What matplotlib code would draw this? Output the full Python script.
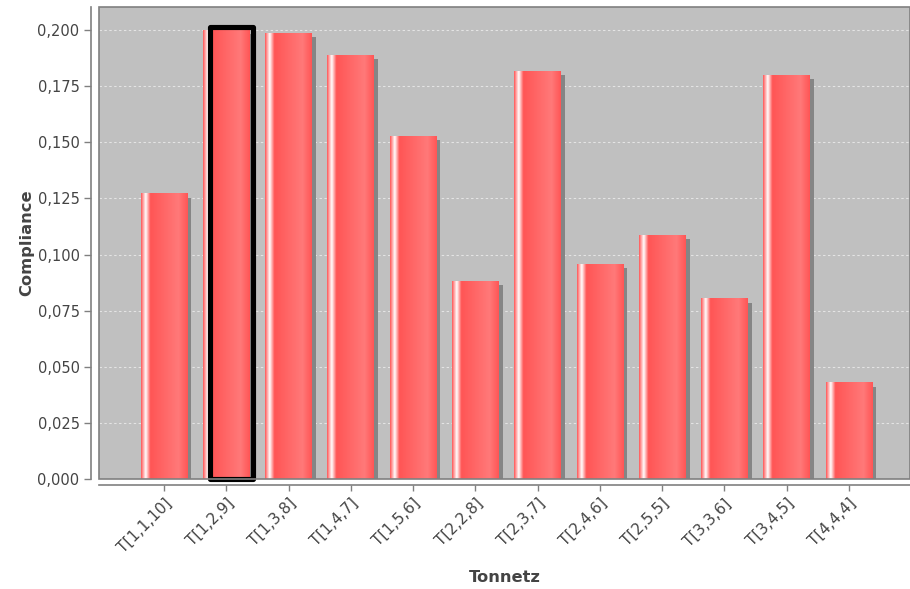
import numpy as np
import matplotlib
matplotlib.use("Agg")
import matplotlib.pyplot as plt
from matplotlib.patches import Rectangle
from matplotlib.ticker import FuncFormatter
from matplotlib.transforms import ScaledTranslation

# Compliance per Tonnetz
categories = ["T[1,1,10]", "T[1,2,9]", "T[1,3,8]", "T[1,4,7]", "T[1,5,6]", "T[2,2,8]",
              "T[2,3,7]", "T[2,4,6]", "T[2,5,5]", "T[3,3,6]", "T[3,4,5]", "T[4,4,4]"]
compliance = [0.1271, 0.2000, 0.1985, 0.1888, 0.1527, 0.0882,
              0.1817, 0.0957, 0.1085, 0.0802, 0.1800, 0.0429]
highlighted = "T[1,2,9]"
y_ticks = [0.000, 0.025, 0.050, 0.075, 0.100, 0.125, 0.150, 0.175, 0.200]

W, H, DPI = 910, 589, 100
fig = plt.figure(figsize=(W / DPI, H / DPI), dpi=DPI)
ax = fig.add_axes([99 / W, 1 - 479 / H, 811 / W, 472 / H])
ax.set_facecolor("#c0c0c0")

# axis lines sit slightly away from the plot area
for side in ("top", "right"):
    ax.spines[side].set_visible(False)
ax.spines["left"].set_position(("outward", 6))
ax.spines["bottom"].set_position(("outward", 4))
for side in ("left", "bottom"):
    ax.spines[side].set_color("#808080")
    ax.spines[side].set_linewidth(1.2)

x = np.arange(len(categories))
bar_w = 0.75

# drop shadows, shifted 4 px right and down
shadows = ax.bar(x, compliance, bar_w, color="#858585", zorder=2, linewidth=0)
shift = ax.transData + ScaledTranslation(4 / DPI, -4 / DPI, fig.dpi_scale_trans)
for p in shadows:
    p.set_transform(shift)

bars = ax.bar(x, compliance, bar_w, color="#ff5555", zorder=3, linewidth=0)

# horizontal gradient in the style of a glossy bar painter
base = np.array([255, 85, 85]) / 255
bright = np.array([255, 121, 121]) / 255
white = np.array([1.0, 1.0, 1.0])
t = np.linspace(0, 1, 240)
grad = np.zeros((1, t.size, 3))
for i, v in enumerate(t):
    if v < 0.10:
        f = v / 0.10
        c = base * (1 - f) + white * f
    elif v < 0.20:
        f = (v - 0.10) / 0.10
        c = white * (1 - f) + base * f
    elif v < 0.80:
        f = (v - 0.20) / 0.60
        c = base * (1 - f) + bright * f
    else:
        f = (v - 0.80) / 0.20
        c = bright * (1 - f) + base * f
    grad[0, i] = c

for p in bars:
    x0, w, h = p.get_x(), p.get_width(), p.get_height()
    ax.imshow(grad, extent=[x0, x0 + w, 0, h], aspect="auto",
              interpolation="bilinear", zorder=3.5)

# outline around the selected Tonnetz
hb = bars[categories.index(highlighted)]
px_x = 1 / 62.3
px_y = 1 / 2240
hx0 = hb.get_x() + 7 * px_x
hx1 = hb.get_x() + hb.get_width() + 3.5 * px_x
htop = hb.get_height() + 3 * px_y
ax.add_patch(Rectangle((hx0, 0), hx1 - hx0, htop, fill=False, edgecolor="black",
                       linewidth=3.7, joinstyle="round", zorder=6, clip_on=False))

ax.set_xlim(-1.044, 11.98)
ax.set_ylim(0, 0.2103)

ax.set_yticks(y_ticks)
ax.yaxis.set_major_formatter(FuncFormatter(lambda v, _: f"{v:.3f}".replace(".", ",")))
ax.yaxis.grid(True, color="#e4e4e4", linestyle=(0, (2.2, 2.2)), linewidth=0.8)
ax.set_axisbelow(True)

ax.tick_params(axis="y", direction="out", length=5, width=1, color="#808080",
               labelsize=10.5, labelcolor="#444444", pad=3)
ax.tick_params(axis="x", direction="out", length=4, width=1, color="#808080",
               labelsize=11, labelcolor="#444444", pad=8)

ax.set_xticks(x)
ax.set_xticklabels(categories)
lab_shift = ScaledTranslation(5 / DPI, 0, fig.dpi_scale_trans)
for lab in ax.get_xticklabels():
    lab.set_rotation(45)
    lab.set_horizontalalignment("right")
    lab.set_verticalalignment("center")
    lab.set_rotation_mode("anchor")
    lab.set_transform(lab.get_transform() + lab_shift)

# plot area border
ax.add_patch(Rectangle((0, 0), 1, 1, transform=ax.transAxes, fill=False,
                       edgecolor="#808080", linewidth=1.2, zorder=7, clip_on=False))

ax.set_xlabel("Tonnetz", fontsize=11.7, fontweight="bold", color="#444444", va="center")
ax.xaxis.set_label_coords(0.5, (479 - 577) / 472)
ax.set_ylabel("Compliance", fontsize=11.7, fontweight="bold", color="#444444", va="center")
ax.yaxis.set_label_coords((27 - 99) / 811, 0.5)

fig.savefig("out.png", dpi=DPI)
